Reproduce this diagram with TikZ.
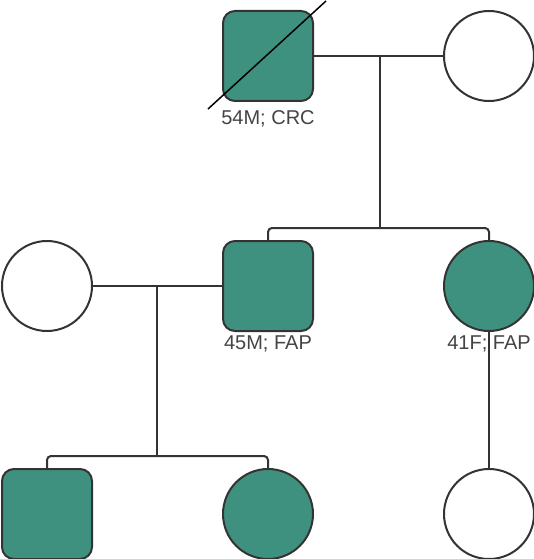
\documentclass[tikz,border=0pt]{standalone}
\usepackage{fontspec}
\setmainfont{Liberation Sans}
\definecolor{aff}{HTML}{3F917F}
\definecolor{stroke}{HTML}{333333}
\definecolor{txt}{HTML}{444444}
\begin{document}
\begin{tikzpicture}[x=1pt,y=-1pt,
  male/.style={draw=stroke,line width=2pt,rectangle,rounded corners=12pt,minimum size=90pt,inner sep=0pt},
  female/.style={draw=stroke,line width=2pt,circle,minimum size=90pt,inner sep=0pt,fill=white},
  affected/.style={fill=aff},
  rel/.style={draw=stroke,line width=2pt},
  lbl/.style={text=txt,font=\fontsize{20pt}{22pt}\selectfont,inner sep=0pt,anchor=center}]
\useasboundingbox (0,0) rectangle (534,559);
% generation I
\node[male,affected] (gf) at (268,56) {};
\node[female] (gm) at (489,56) {};
% generation II
\node[female] (wife) at (47,286) {};
\node[male,affected] (son) at (268,286) {};
\node[female,affected] (dau) at (489,286) {};
% generation III
\node[male,affected] (g1) at (47,514) {};
\node[female,affected] (g2) at (268,514) {};
\node[female] (g3) at (489,514) {};
% coordinates
\coordinate (m1) at (380,56);
\coordinate (b1) at (380,228);
\coordinate (m2) at (157,286);
\coordinate (b2) at (157,456);
% connectors
\draw[rel] (gf) -- (gm);
\draw[rel] (m1) -- (b1);
\draw[rel,rounded corners=4pt] (son.north) |- (b1) -| (dau.north);
\draw[rel] (wife) -- (son);
\draw[rel] (m2) -- (b2);
\draw[rel,rounded corners=4pt] (g1.north) |- (b2) -| (g2.north);
\draw[rel] (dau.south) -- (g3.north);
% deceased mark
\coordinate (dA) at (208,109);
\coordinate (dB) at (326,1);
\draw[black,line width=1.5pt] (dA) -- (dB);
% labels
\node[lbl] (l1) at (268,119) {54M; CRC};
\node[lbl] (l2) at (268,344) {45M; FAP};
\node[lbl] (l3) at (489,344) {41F; FAP};
\end{tikzpicture}
\end{document}
